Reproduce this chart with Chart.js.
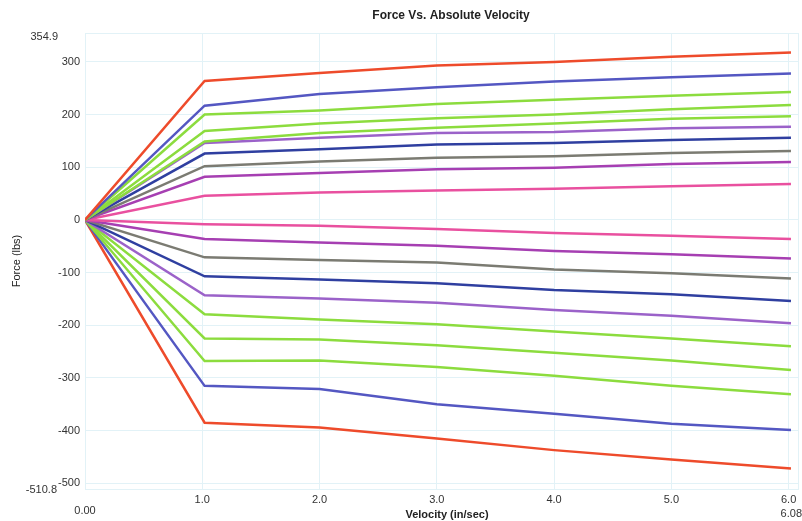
<!DOCTYPE html>
<html>
<head>
<meta charset="utf-8">
<title>Force Vs. Absolute Velocity</title>
<script src="https://cdn.jsdelivr.net/npm/chart.js@4/dist/chart.umd.min.js"></script>
<style>
  html, body { margin: 0; padding: 0; background: #fff; }
  #wrap { width: 802px; height: 521px; }
</style>
</head>
<body>
<div id="wrap"><canvas id="chart" width="802" height="521"></canvas></div>
<script>
// velocity points (in/sec) shared by every curve
const velocity = [0, 1.02, 2, 3, 4, 5, 6.02];

// rebound side (positive force), top to bottom
const redUp     = [0, 264, 279, 293, 300, 310, 318];
const blueUp    = [0, 217, 239, 252, 263, 271, 278];
const green1Up  = [0, 200, 208, 220, 228, 236, 243];
const green2Up  = [0, 169, 183, 193, 200, 210, 218];
const green3Up  = [0, 149, 165, 175, 183, 192, 197];
const purpleUp  = [0, 146, 156, 165, 167, 174, 177];
const navyUp    = [0, 126, 134, 143, 146, 152, 156];
const grayUp    = [0, 102, 111, 118, 121, 127, 131];
const magentaUp = [0, 82, 89, 96, 99, 106, 110];
const pinkUp    = [0, 46, 52, 56, 59, 64, 68];

// compression side (negative force), top to bottom
const pinkDn    = [0, -8, -11, -17, -25, -30, -36];
const magentaDn = [0, -36, -43, -49, -59, -65, -73];
const grayDn    = [0, -71, -76, -81, -94, -101, -111];
const navyDn    = [0, -107, -113, -120, -133, -141, -154];
const purpleDn  = [0, -143, -149, -157, -171, -182, -196];
const green1Dn  = [0, -179, -189, -198, -212, -225, -240];
const green2Dn  = [0, -225, -227, -238, -252, -267, -285];
const green3Dn  = [0, -268, -267, -279, -296, -315, -331];
const blueDn    = [0, -315, -321, -350, -368, -387, -399];
const redDn     = [0, -385, -394, -415, -437, -455, -472];

// axis ticks
const xTicks = [1, 2, 3, 4, 5, 6];
const yTicks = [-500, -400, -300, -200, -100, 0, 100, 200, 300];
const xMin = 0, xMax = 6.08;
const yMin = -510.8, yMax = 354.9;

const RED = "#ee4b2b", BLUE = "#5457c2", GREEN = "#8cdc3e", PURPLE = "#9b62c9",
      NAVY = "#2f3fa0", GRAY = "#7b7b72", MAGENTA = "#a63fb2", PINK = "#e9509f";

const series = [
  [redUp, RED], [blueUp, BLUE], [green1Up, GREEN], [green2Up, GREEN], [green3Up, GREEN],
  [purpleUp, PURPLE], [navyUp, NAVY], [grayUp, GRAY], [magentaUp, MAGENTA], [pinkUp, PINK],
  [pinkDn, PINK], [magentaDn, MAGENTA], [grayDn, GRAY], [navyDn, NAVY], [purpleDn, PURPLE],
  [green1Dn, GREEN], [green2Dn, GREEN], [green3Dn, GREEN], [blueDn, BLUE], [redDn, RED]
];

const FONT = "Arial, 'Liberation Sans', sans-serif";
const GRID = "#e2f2f7";

// extra texts: title, axis titles, min/max labels
const extraText = {
  id: "extraText",
  afterDraw(chart) {
    const ctx = chart.ctx;
    const xs = chart.scales.x, ys = chart.scales.y;
    ctx.save();
    ctx.fillStyle = "#222";
    ctx.textBaseline = "middle";

    ctx.font = "bold 12px " + FONT;
    ctx.textAlign = "center";
    ctx.fillText("Force Vs. Absolute Velocity", 451, 16);

    ctx.font = "bold 11px " + FONT;
    ctx.fillText("Velocity (in/sec)", 447, 515);

    ctx.save();
    ctx.translate(17, (chart.chartArea.top + chart.chartArea.bottom) / 2);
    ctx.rotate(-Math.PI / 2);
    ctx.font = "11px " + FONT;
    ctx.fillText("Force (lbs)", 0, 0);
    ctx.restore();

    ctx.fillStyle = "#333";
    ctx.font = "11px " + FONT;
    ctx.textAlign = "right";
    ctx.fillText(yMax.toFixed(1), 58, ys.getPixelForValue(yMax) + 4);
    ctx.fillText(yMin.toFixed(1), 57, ys.getPixelForValue(yMin) + 1);
    ctx.textAlign = "center";
    ctx.fillText(xMin.toFixed(2), xs.getPixelForValue(xMin), 511);
    ctx.textAlign = "right";
    ctx.fillText(xMax.toFixed(2), chart.width, 514);
    ctx.restore();
  }
};

new Chart(document.getElementById("chart"), {
  type: "line",
  data: {
    datasets: series.map(([vals, color]) => ({
      data: vals.map((v, i) => ({ x: velocity[i], y: v })),
      borderColor: color,
      borderWidth: 2.5,
      pointRadius: 0,
      fill: false,
      tension: 0
    }))
  },
  options: {
    responsive: false,
    animation: false,
    layout: { padding: { top: 33, right: 1, left: 0, bottom: 0 } },
    plugins: { legend: { display: false }, tooltip: { enabled: false }, title: { display: false } },
    scales: {
      x: {
        type: "linear",
        min: xMin,
        max: xMax,
        afterBuildTicks: s => { s.ticks = [xMin, ...xTicks, xMax].map(v => ({ value: v })); },
        afterFit: s => { s.height = 32; },
        grid: { color: GRID, drawTicks: false },
        border: { color: GRID },
        ticks: {
          padding: 4,
          color: "#333",
          font: { family: FONT, size: 11 },
          maxRotation: 0,
          autoSkip: false,
          callback: v => (v === xMin || v === xMax) ? "" : v.toFixed(1)
        }
      },
      y: {
        min: yMin,
        max: yMax,
        afterBuildTicks: s => { s.ticks = [yMin, ...yTicks, yMax].map(v => ({ value: v })); },
        afterFit: s => { s.width = 85; },
        grid: { color: GRID, drawTicks: false },
        border: { color: GRID },
        ticks: {
          padding: 5,
          color: "#333",
          font: { family: FONT, size: 11 },
          autoSkip: false,
          callback: v => (v === yMin || v === yMax) ? "" : String(v)
        }
      }
    }
  },
  plugins: [extraText]
});
</script>
</body>
</html>
